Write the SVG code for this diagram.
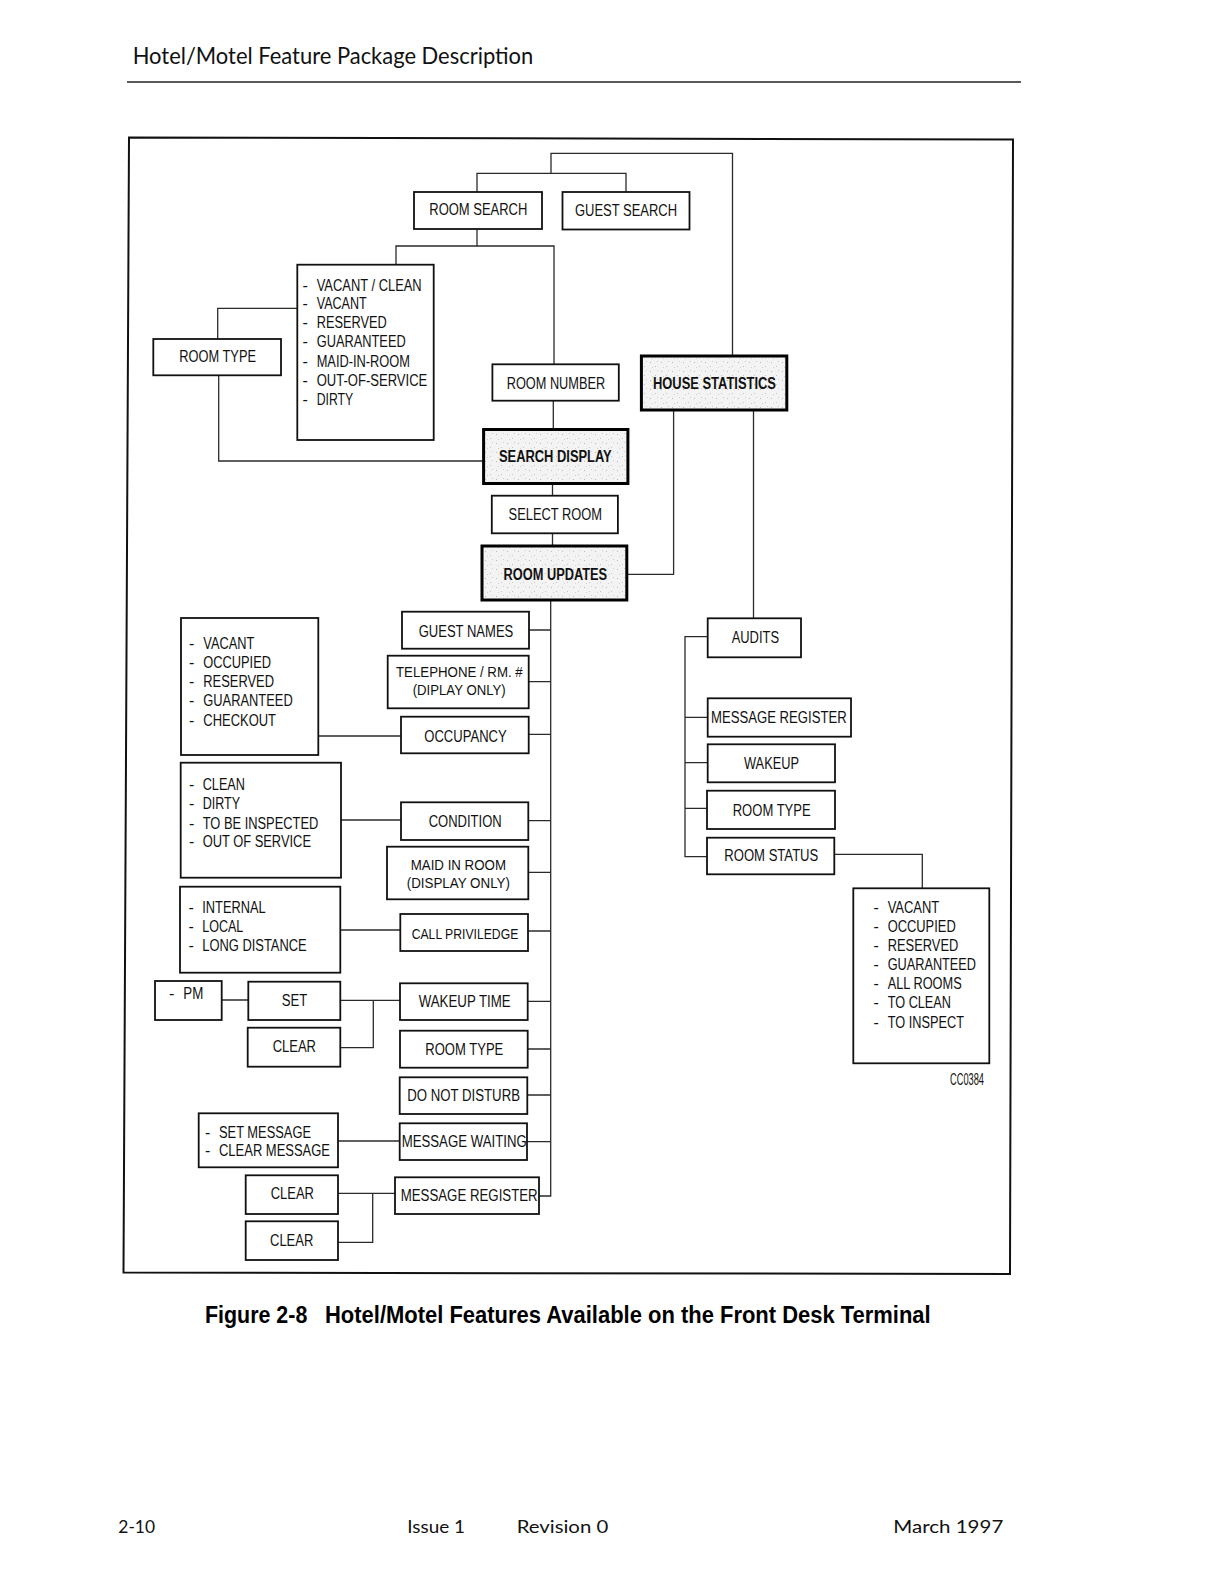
<svg xmlns="http://www.w3.org/2000/svg" width="1213" height="1583" viewBox="0 0 1213 1583">
<defs>
<pattern id="stip" width="11" height="9" patternUnits="userSpaceOnUse">
<rect width="11" height="9" fill="#f3f3f3"/>
<rect x="1" y="2" width="1" height="1" fill="#b8b8b8"/>
<rect x="6" y="6" width="1" height="1" fill="#c4c4c4"/>
<rect x="8" y="1" width="1" height="1" fill="#cfcfcf"/>
<rect x="3" y="7" width="1" height="1" fill="#d0d0d0"/>
</pattern>
</defs>
<style>
.box{fill:#fff;stroke:#111;stroke-width:1.8}
.hbox{fill:url(#stip);stroke:#000;stroke-width:3}
.ln{fill:none;stroke:#2b2b2b;stroke-width:1.3}
.t{font-family:"Liberation Sans Narrow","Liberation Sans",Arial,sans-serif;font-size:16px;fill:#111}
.s15{font-size:15px}
.b{font-weight:bold}
.hd{font-family:"Lato","Noto Sans","Liberation Sans",sans-serif;fill:#111}
.cap{font-family:"Liberation Sans",Arial,sans-serif;font-weight:bold;font-size:23px;fill:#000}
</style>
<rect width="1213" height="1583" fill="#fff"/>

<g id="page">
<text class="hd" x="132.7" y="64.3" font-size="23" textLength="400.6" lengthAdjust="spacingAndGlyphs">Hotel/Motel Feature Package Description</text>
<line x1="127" y1="82" x2="1021" y2="82" stroke="#222" stroke-width="1.6"/>
<polygon points="129,137.5 1013,139.5 1010,1274 123.5,1272.5" fill="none" stroke="#111" stroke-width="2"/>
<text class="cap" x="205" y="1323.3" textLength="102.3" lengthAdjust="spacingAndGlyphs">Figure 2-8</text>
<text class="cap" x="325" y="1323.3" textLength="605.7" lengthAdjust="spacingAndGlyphs">Hotel/Motel Features Available on the Front Desk Terminal</text>
<text class="hd" x="118.3" y="1533.3" font-size="18" textLength="36.7" lengthAdjust="spacingAndGlyphs">2-10</text>
<text class="hd" x="407.3" y="1533.3" font-size="18" textLength="57.7" lengthAdjust="spacingAndGlyphs">Issue 1</text>
<text class="hd" x="516.7" y="1533.3" font-size="18" textLength="91.6" lengthAdjust="spacingAndGlyphs">Revision 0</text>
<text class="hd" x="893.3" y="1533.3" font-size="18" textLength="110" lengthAdjust="spacingAndGlyphs">March 1997</text>
<text class="t" x="950" y="1085" font-size="10" textLength="34" lengthAdjust="spacingAndGlyphs">CC0384</text>
</g>

<g id="connectors">
<path class="ln" d="M477,192 V173.3 H626 V192"/>
<path class="ln" d="M551,173.3 V153.3 H732.5 V356"/>
<path class="ln" d="M477,229 V246"/>
<path class="ln" d="M396,265 V246 H554 V364.3"/>
<path class="ln" d="M217.7,339 V308.3 H297.3"/>
<path class="ln" d="M218.7,375.3 V461 H483.6"/>
<path class="ln" d="M553.3,400.7 V429.5"/>
<path class="ln" d="M552.5,483.5 V495.7"/>
<path class="ln" d="M552.5,533.3 V546"/>
<path class="ln" d="M673.6,410 V574.3 H626.8"/>
<path class="ln" d="M753.5,410 V618.3"/>
<path class="ln" d="M550.7,600 V1196 H539"/>
<path class="ln" d="M529,630 H550.7 M528.7,681.7 H550.7 M528.7,734.3 H550.7 M528.3,820.7 H550.7 M528.3,872.3 H550.7 M528,931 H550.7 M527.7,1001.3 H550.7 M527.7,1049 H550.7 M527.3,1095 H550.7 M527,1141.7 H550.7"/>
<path class="ln" d="M318.3,736 H401 M341,820 H401 M340.3,930 H400.3"/>
<path class="ln" d="M221.7,1000 H248.3 M340.3,1000.3 H400 M340.3,1047.7 H373.3 V1000.3"/>
<path class="ln" d="M338,1141 H399.7"/>
<path class="ln" d="M338,1193.3 H395 M338,1242.3 H372.7 V1193.3"/>
<path class="ln" d="M707.7,636.7 H685 V856.7 H707 M685,717.3 H707.7 M685,762.7 H707.7 M685,808.3 H707"/>
<path class="ln" d="M834.3,854.3 H922.3 V888.3"/>
</g>

<g id="room-search">
<rect class="box" x="414" y="192" width="128" height="37"/>
<text class="t" x="429.3" y="215" textLength="98" lengthAdjust="spacingAndGlyphs">ROOM SEARCH</text>
</g>
<g id="guest-search">
<rect class="box" x="562.5" y="192" width="127" height="37.5"/>
<text class="t" x="575" y="216" textLength="102" lengthAdjust="spacingAndGlyphs">GUEST SEARCH</text>
</g>
<g id="search-status-list">
<rect class="box" x="297.3" y="264.7" width="136.4" height="175.3"/>
<text class="t" x="302.5" y="290.7">-</text>
<text class="t" x="302.5" y="309">-</text>
<text class="t" x="302.5" y="328.3">-</text>
<text class="t" x="302.5" y="347.3">-</text>
<text class="t" x="302.5" y="367">-</text>
<text class="t" x="302.5" y="386.3">-</text>
<text class="t" x="302.5" y="404.7">-</text>
<text class="t" x="316.7" y="290.7" textLength="105" lengthAdjust="spacingAndGlyphs">VACANT / CLEAN</text>
<text class="t" x="316.7" y="309" textLength="50" lengthAdjust="spacingAndGlyphs">VACANT</text>
<text class="t" x="316.7" y="328.3" textLength="70" lengthAdjust="spacingAndGlyphs">RESERVED</text>
<text class="t" x="316.7" y="347.3" textLength="89" lengthAdjust="spacingAndGlyphs">GUARANTEED</text>
<text class="t" x="316.7" y="367" textLength="93.3" lengthAdjust="spacingAndGlyphs">MAID-IN-ROOM</text>
<text class="t" x="316.7" y="386.3" textLength="110.6" lengthAdjust="spacingAndGlyphs">OUT-OF-SERVICE</text>
<text class="t" x="316.7" y="404.7" textLength="36.6" lengthAdjust="spacingAndGlyphs">DIRTY</text>
</g>
<g id="room-type-search">
<rect class="box" x="153.3" y="339" width="127.7" height="36.3"/>
<text class="t" x="179.3" y="362.3" textLength="76.7" lengthAdjust="spacingAndGlyphs">ROOM TYPE</text>
</g>
<g id="room-number">
<rect class="box" x="492.4" y="364.3" width="126.4" height="36.4"/>
<text class="t" x="506.7" y="389.3" textLength="98.5" lengthAdjust="spacingAndGlyphs">ROOM NUMBER</text>
</g>
<g id="house-statistics">
<rect class="hbox" x="641.4" y="356" width="145.4" height="54"/>
<text class="t b" x="652.9" y="389.3" textLength="123.1" lengthAdjust="spacingAndGlyphs">HOUSE STATISTICS</text>
</g>
<g id="search-display">
<rect class="hbox" x="483.6" y="429.5" width="144.3" height="54"/>
<text class="t b" x="499" y="461.7" textLength="112.7" lengthAdjust="spacingAndGlyphs">SEARCH DISPLAY</text>
</g>
<g id="select-room">
<rect class="box" x="491.8" y="495.7" width="126.1" height="37.6"/>
<text class="t" x="508.6" y="520" textLength="93.5" lengthAdjust="spacingAndGlyphs">SELECT ROOM</text>
</g>
<g id="room-updates">
<rect class="hbox" x="482" y="546" width="144.8" height="54"/>
<text class="t b" x="503.6" y="580" textLength="103.5" lengthAdjust="spacingAndGlyphs">ROOM UPDATES</text>
</g>

<g id="guest-names">
<rect class="box" x="402" y="611.7" width="127" height="37"/>
<text class="t" x="418.7" y="636.7" textLength="94.6" lengthAdjust="spacingAndGlyphs">GUEST NAMES</text>
</g>
<g id="telephone">
<rect class="box" x="387.7" y="655.7" width="141" height="52.6"/>
<text class="t s15" x="396" y="677.3" textLength="126.7" lengthAdjust="spacingAndGlyphs">TELEPHONE / RM. #</text>
<text class="t s15" x="412.7" y="695" textLength="93" lengthAdjust="spacingAndGlyphs">(DIPLAY ONLY)</text>
</g>
<g id="occupancy">
<rect class="box" x="401" y="716.7" width="127.7" height="36.6"/>
<text class="t" x="424.3" y="741.7" textLength="82.4" lengthAdjust="spacingAndGlyphs">OCCUPANCY</text>
</g>
<g id="occupancy-list">
<rect class="box" x="181" y="618" width="137.3" height="137"/>
<text class="t" x="189" y="649">-</text>
<text class="t" x="189" y="668.3">-</text>
<text class="t" x="189" y="687.3">-</text>
<text class="t" x="189" y="706">-</text>
<text class="t" x="189" y="726">-</text>
<text class="t" x="203.3" y="649" textLength="51" lengthAdjust="spacingAndGlyphs">VACANT</text>
<text class="t" x="203.3" y="668.3" textLength="67.7" lengthAdjust="spacingAndGlyphs">OCCUPIED</text>
<text class="t" x="203.3" y="687.3" textLength="70.7" lengthAdjust="spacingAndGlyphs">RESERVED</text>
<text class="t" x="203.3" y="706" textLength="89.4" lengthAdjust="spacingAndGlyphs">GUARANTEED</text>
<text class="t" x="203.3" y="726" textLength="72.7" lengthAdjust="spacingAndGlyphs">CHECKOUT</text>
</g>
<g id="condition-list">
<rect class="box" x="180.7" y="762.7" width="160.3" height="115"/>
<text class="t" x="189" y="790">-</text>
<text class="t" x="189" y="808.7">-</text>
<text class="t" x="189" y="829.3">-</text>
<text class="t" x="189" y="847.3">-</text>
<text class="t" x="202.7" y="790" textLength="42.3" lengthAdjust="spacingAndGlyphs">CLEAN</text>
<text class="t" x="202.7" y="808.7" textLength="37.3" lengthAdjust="spacingAndGlyphs">DIRTY</text>
<text class="t" x="202.7" y="829.3" textLength="115.6" lengthAdjust="spacingAndGlyphs">TO BE INSPECTED</text>
<text class="t" x="202.7" y="847.3" textLength="108.3" lengthAdjust="spacingAndGlyphs">OUT OF SERVICE</text>
</g>
<g id="condition">
<rect class="box" x="401" y="802.3" width="127.3" height="37.7"/>
<text class="t" x="428.7" y="827.3" textLength="73" lengthAdjust="spacingAndGlyphs">CONDITION</text>
</g>
<g id="maid-in-room">
<rect class="box" x="387" y="846.7" width="141.3" height="52.6"/>
<text class="t s15" x="410.7" y="870" textLength="95.3" lengthAdjust="spacingAndGlyphs">MAID IN ROOM</text>
<text class="t s15" x="406.7" y="887.7" textLength="103.3" lengthAdjust="spacingAndGlyphs">(DISPLAY ONLY)</text>
</g>
<g id="call-list">
<rect class="box" x="180" y="886.7" width="160.3" height="86"/>
<text class="t" x="188.5" y="912.7">-</text>
<text class="t" x="188.5" y="932.3">-</text>
<text class="t" x="188.5" y="950.7">-</text>
<text class="t" x="202.3" y="912.7" textLength="63.4" lengthAdjust="spacingAndGlyphs">INTERNAL</text>
<text class="t" x="202.3" y="932.3" textLength="41" lengthAdjust="spacingAndGlyphs">LOCAL</text>
<text class="t" x="202.3" y="950.7" textLength="104.4" lengthAdjust="spacingAndGlyphs">LONG DISTANCE</text>
</g>
<g id="call-priviledge">
<rect class="box" x="400.3" y="914" width="127.7" height="37"/>
<text class="t s15" x="411.7" y="939" textLength="106.6" lengthAdjust="spacingAndGlyphs">CALL PRIVILEDGE</text>
</g>
<g id="pm">
<rect class="box" x="155" y="981" width="66.7" height="39"/>
<text class="t" x="169" y="999.3">-</text>
<text class="t" x="183.3" y="999.3" textLength="20" lengthAdjust="spacingAndGlyphs">PM</text>
</g>
<g id="set">
<rect class="box" x="248.3" y="981.7" width="92" height="38.3"/>
<text class="t" x="281.7" y="1006" textLength="25.6" lengthAdjust="spacingAndGlyphs">SET</text>
</g>
<g id="clear-wakeup">
<rect class="box" x="247.7" y="1027.7" width="92.6" height="39"/>
<text class="t" x="272.7" y="1052.3" textLength="43.3" lengthAdjust="spacingAndGlyphs">CLEAR</text>
</g>
<g id="wakeup-time">
<rect class="box" x="400" y="983.3" width="127.7" height="36.7"/>
<text class="t" x="418.7" y="1007" textLength="92" lengthAdjust="spacingAndGlyphs">WAKEUP TIME</text>
</g>
<g id="room-type-update">
<rect class="box" x="400" y="1030.7" width="127.7" height="37"/>
<text class="t" x="425.3" y="1054.7" textLength="78" lengthAdjust="spacingAndGlyphs">ROOM TYPE</text>
</g>
<g id="do-not-disturb">
<rect class="box" x="399.7" y="1077.3" width="127.6" height="36.7"/>
<text class="t" x="407.3" y="1101" textLength="112.7" lengthAdjust="spacingAndGlyphs">DO NOT DISTURB</text>
</g>
<g id="message-waiting">
<rect class="box" x="399.7" y="1123.3" width="127.3" height="36.7"/>
<text class="t" x="401.7" y="1147.3" textLength="125" lengthAdjust="spacingAndGlyphs">MESSAGE WAITING</text>
</g>
<g id="message-list">
<rect class="box" x="198.7" y="1113.3" width="139.3" height="54"/>
<text class="t" x="205" y="1137.7">-</text>
<text class="t" x="205" y="1156">-</text>
<text class="t" x="219" y="1137.7" textLength="92" lengthAdjust="spacingAndGlyphs">SET MESSAGE</text>
<text class="t" x="219" y="1156" textLength="111" lengthAdjust="spacingAndGlyphs">CLEAR MESSAGE</text>
</g>
<g id="clear-msg-1">
<rect class="box" x="245.7" y="1175.3" width="92.3" height="38.7"/>
<text class="t" x="270.7" y="1199.3" textLength="43.3" lengthAdjust="spacingAndGlyphs">CLEAR</text>
</g>
<g id="clear-msg-2">
<rect class="box" x="245.7" y="1221.3" width="92.3" height="38.7"/>
<text class="t" x="270" y="1246" textLength="43.3" lengthAdjust="spacingAndGlyphs">CLEAR</text>
</g>
<g id="message-register-update">
<rect class="box" x="395" y="1177.3" width="144" height="36.7"/>
<text class="t" x="400.7" y="1200.7" textLength="137" lengthAdjust="spacingAndGlyphs">MESSAGE REGISTER</text>
</g>

<g id="audits">
<rect class="box" x="707.7" y="618.3" width="93.3" height="39"/>
<text class="t" x="731.7" y="643.3" textLength="47.3" lengthAdjust="spacingAndGlyphs">AUDITS</text>
</g>
<g id="message-register-audit">
<rect class="box" x="707.7" y="698.3" width="143.3" height="38.4"/>
<text class="t" x="711" y="723.3" textLength="135.7" lengthAdjust="spacingAndGlyphs">MESSAGE REGISTER</text>
</g>
<g id="wakeup-audit">
<rect class="box" x="707.7" y="744.3" width="127.3" height="38"/>
<text class="t" x="744" y="769.3" textLength="55" lengthAdjust="spacingAndGlyphs">WAKEUP</text>
</g>
<g id="room-type-audit">
<rect class="box" x="707" y="790.7" width="128" height="38.3"/>
<text class="t" x="732.7" y="816" textLength="78" lengthAdjust="spacingAndGlyphs">ROOM TYPE</text>
</g>
<g id="room-status">
<rect class="box" x="707" y="837.7" width="127.3" height="36.6"/>
<text class="t" x="724.3" y="861" textLength="94" lengthAdjust="spacingAndGlyphs">ROOM STATUS</text>
</g>
<g id="room-status-list">
<rect class="box" x="853.3" y="888.3" width="136" height="175"/>
<text class="t" x="873.5" y="912.7">-</text>
<text class="t" x="873.5" y="932.3">-</text>
<text class="t" x="873.5" y="951">-</text>
<text class="t" x="873.5" y="970">-</text>
<text class="t" x="873.5" y="989">-</text>
<text class="t" x="873.5" y="1008.3">-</text>
<text class="t" x="873.5" y="1027.7">-</text>
<text class="t" x="887.7" y="912.7" textLength="51.6" lengthAdjust="spacingAndGlyphs">VACANT</text>
<text class="t" x="887.7" y="932.3" textLength="68" lengthAdjust="spacingAndGlyphs">OCCUPIED</text>
<text class="t" x="887.7" y="951" textLength="70.6" lengthAdjust="spacingAndGlyphs">RESERVED</text>
<text class="t" x="887.7" y="970" textLength="88.3" lengthAdjust="spacingAndGlyphs">GUARANTEED</text>
<text class="t" x="887.7" y="989" textLength="74" lengthAdjust="spacingAndGlyphs">ALL ROOMS</text>
<text class="t" x="887.7" y="1008.3" textLength="63.3" lengthAdjust="spacingAndGlyphs">TO CLEAN</text>
<text class="t" x="887.7" y="1027.7" textLength="76.3" lengthAdjust="spacingAndGlyphs">TO INSPECT</text>
</g>
</svg>
